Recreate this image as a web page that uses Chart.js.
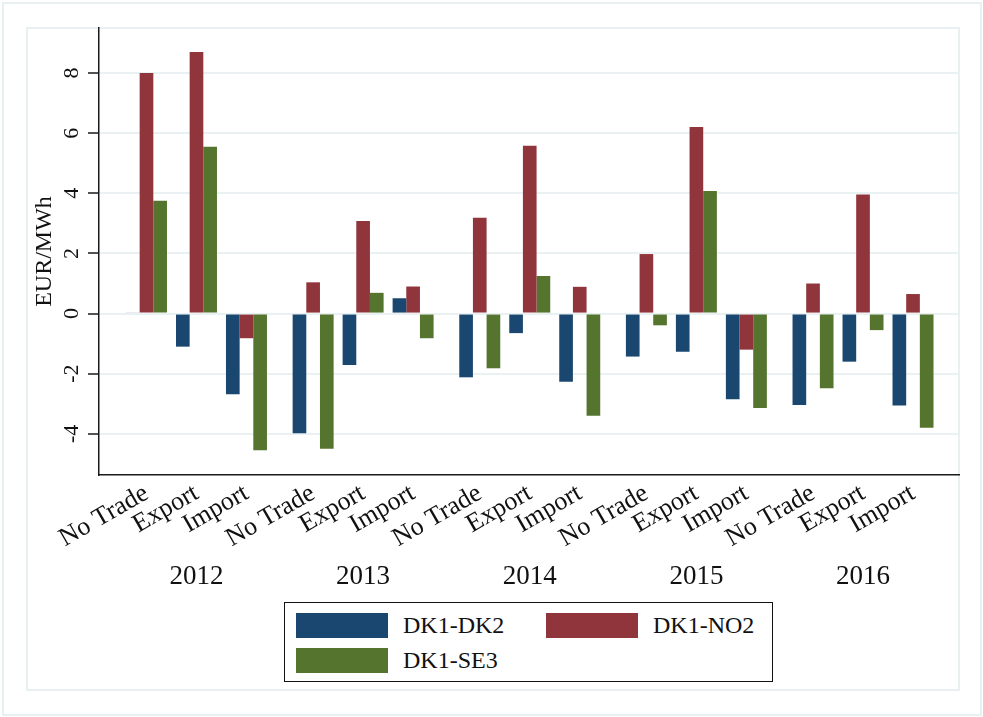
<!DOCTYPE html>
<html>
<head>
<meta charset="utf-8">
<script src="https://cdn.jsdelivr.net/npm/chart.js@4.4.1/dist/chart.umd.min.js"></script>
<style>
  * { box-sizing: border-box; }
  body { margin: 0; background: #fff; }
  .page { position: relative; width: 983px; height: 717px; overflow: hidden; background: #fff; }
  .frame { position: absolute; border: 2px solid #e9f0f2; }
  .frame.outer { left: 2px; top: 2px; width: 980px; height: 714px; }
  .frame.inner { left: 26px; top: 27px; width: 934px; height: 664px; }
  canvas { position: absolute; left: 0; top: 0; }
  .legend {
    position: absolute; left: 284px; top: 602px; width: 489px; height: 80px;
    border: 1.5px solid #111; background: #fff;
    font-family: "Liberation Serif", "Times New Roman", serif; font-size: 24px; color: #111;
  }
  .legend .item { position: absolute; display: flex; align-items: center; height: 25px; }
  .legend .swatch { width: 92px; height: 25px; margin-right: 15px; }
</style>
</head>
<body>
<div class="page">
  <div class="frame outer"></div>
  <div class="frame inner"></div>
  <canvas id="chart" width="983" height="717"></canvas>
  <div class="legend" id="legend"></div>
</div>
<script>
const tradeTypes = ['No Trade', 'Export', 'Import'];
const years = ['2012', '2013', '2014', '2015', '2016'];
const yTicks = [-4, -2, 0, 2, 4, 6, 8];

// EUR/MWh per year and trade situation, in the order of the labels below
const dk1dk2 = [0.03, -1.10, -2.68, -3.98, -1.71, 0.51, -2.12, -0.65, -2.27, -1.43, -1.27, -2.85, -3.04, -1.60, -3.06];
const dk1no2 = [8.00, 8.70, -0.82, 1.04, 3.08, 0.90, 3.19, 5.58, 0.89, 1.98, 6.21, -1.20, 1.00, 3.96, 0.65];
const dk1se3 = [3.75, 5.55, -4.55, -4.50, 0.69, -0.82, -1.82, 1.25, -3.40, -0.39, 4.08, -3.14, -2.48, -0.55, -3.80];

const serif = '"Liberation Serif", "Times New Roman", serif';

// each year is a block of three slots with a small extra gap after it
const yearGap = 1 / 3;
const slot = (yi, ti) => yi * (tradeTypes.length + yearGap) + ti;

const positions = [];
const tickLabels = [];
years.forEach((yr, yi) => {
  tradeTypes.forEach((t, ti) => {
    positions.push(slot(yi, ti));
    tickLabels.push(t);
  });
});
const yearCenters = years.map((yr, yi) => slot(yi, 1));

const xMin = -0.95;
const xMax = slot(years.length - 1, tradeTypes.length - 1) + 0.92;

const toPoints = vals => vals.map((v, i) => ({ x: positions[i], y: v }));

// y tick labels standing on end, drawn next to the axis tick marks
const verticalYTicks = {
  id: 'verticalYTicks',
  afterDraw(chart) {
    const y = chart.scales.y;
    const c = chart.ctx;
    c.save();
    c.fillStyle = '#111';
    c.font = '22px ' + serif;
    c.textAlign = 'center';
    c.textBaseline = 'middle';
    yTicks.forEach(v => {
      c.save();
      c.translate(y.right - 28, y.getPixelForValue(v));
      c.rotate(-Math.PI / 2);
      c.fillText(String(v), 0, 1);
      c.restore();
    });
    c.restore();
  }
};

const ctx = document.getElementById('chart');

const chart = new Chart(ctx, {
  type: 'bar',
  data: {
    datasets: [
      { label: 'DK1-DK2', data: toPoints(dk1dk2), backgroundColor: '#1a476f' },
      { label: 'DK1-NO2', data: toPoints(dk1no2), backgroundColor: '#90353b' },
      { label: 'DK1-SE3', data: toPoints(dk1se3), backgroundColor: '#55752f' }
    ]
  },
  options: {
    responsive: false,
    animation: false,
    devicePixelRatio: 1,
    layout: { padding: { left: 27, top: 28, right: 24, bottom: 122 } },
    datasets: {
      bar: { categoryPercentage: 0.82, barPercentage: 1, borderWidth: 0 }
    },
    scales: {
      x: {
        type: 'linear',
        min: xMin,
        max: xMax,
        offset: false,
        position: 'bottom',
        weight: 0,
        grid: { display: false, drawTicks: false, offset: false },
        ticks: { display: false },
        border: { display: true, color: '#1a1a1a', width: 1.5 },
        afterFit: s => { s.height = 0; }
      },
      xLabels: {
        type: 'linear',
        min: xMin,
        max: xMax,
        offset: false,
        position: 'bottom',
        weight: 1,
        grid: { display: false, drawTicks: false, offset: false },
        border: { display: false },
        afterBuildTicks: s => { s.ticks = positions.map(v => ({ value: v })); },
        ticks: {
          autoSkip: false,
          minRotation: 30,
          maxRotation: 30,
          padding: 3,
          color: '#111',
          font: { family: serif, size: 26 },
          callback: (v, i) => tickLabels[i]
        },
        afterFit: s => { s.height = 80; }
      },
      xYears: {
        type: 'linear',
        min: xMin,
        max: xMax,
        offset: false,
        position: 'bottom',
        weight: 2,
        grid: { display: false, drawTicks: false, offset: false },
        border: { display: false },
        afterBuildTicks: s => { s.ticks = yearCenters.map(v => ({ value: v })); },
        ticks: {
          autoSkip: false,
          minRotation: 0,
          maxRotation: 0,
          padding: 6,
          color: '#111',
          font: { family: serif, size: 27 },
          callback: (v, i) => years[i]
        },
        afterFit: s => { s.height = 40; }
      },
      y: {
        min: -5.37,
        max: 9.5,
        afterBuildTicks: s => { s.ticks = yTicks.map(v => ({ value: v })); },
        grid: {
          color: '#eaf1f3',
          lineWidth: 2,
          tickColor: '#1a1a1a',
          tickLength: 11,
          tickWidth: 1.5
        },
        border: { display: true, color: '#1a1a1a', width: 1.5 },
        ticks: { display: false },
        title: {
          display: true,
          text: 'EUR/MWh',
          color: '#111',
          font: { family: serif, size: 24 },
          padding: { top: 3, bottom: 0 }
        },
        afterFit: s => { s.width = 72; }
      }
    },
    plugins: {
      legend: { display: false },
      tooltip: { enabled: false }
    }
  },
  plugins: [verticalYTicks]
});

// legend laid out in two columns, built from the chart's datasets
const legendEl = document.getElementById('legend');
const slots = [
  { left: 11, top: 10 },
  { left: 261, top: 10 },
  { left: 11, top: 45 }
];
chart.data.datasets.forEach((ds, i) => {
  const item = document.createElement('div');
  item.className = 'item';
  item.style.left = slots[i].left + 'px';
  item.style.top = slots[i].top + 'px';
  const sw = document.createElement('span');
  sw.className = 'swatch';
  sw.style.background = ds.backgroundColor;
  const txt = document.createElement('span');
  txt.textContent = ds.label;
  item.appendChild(sw);
  item.appendChild(txt);
  legendEl.appendChild(item);
});
</script>
</body>
</html>
